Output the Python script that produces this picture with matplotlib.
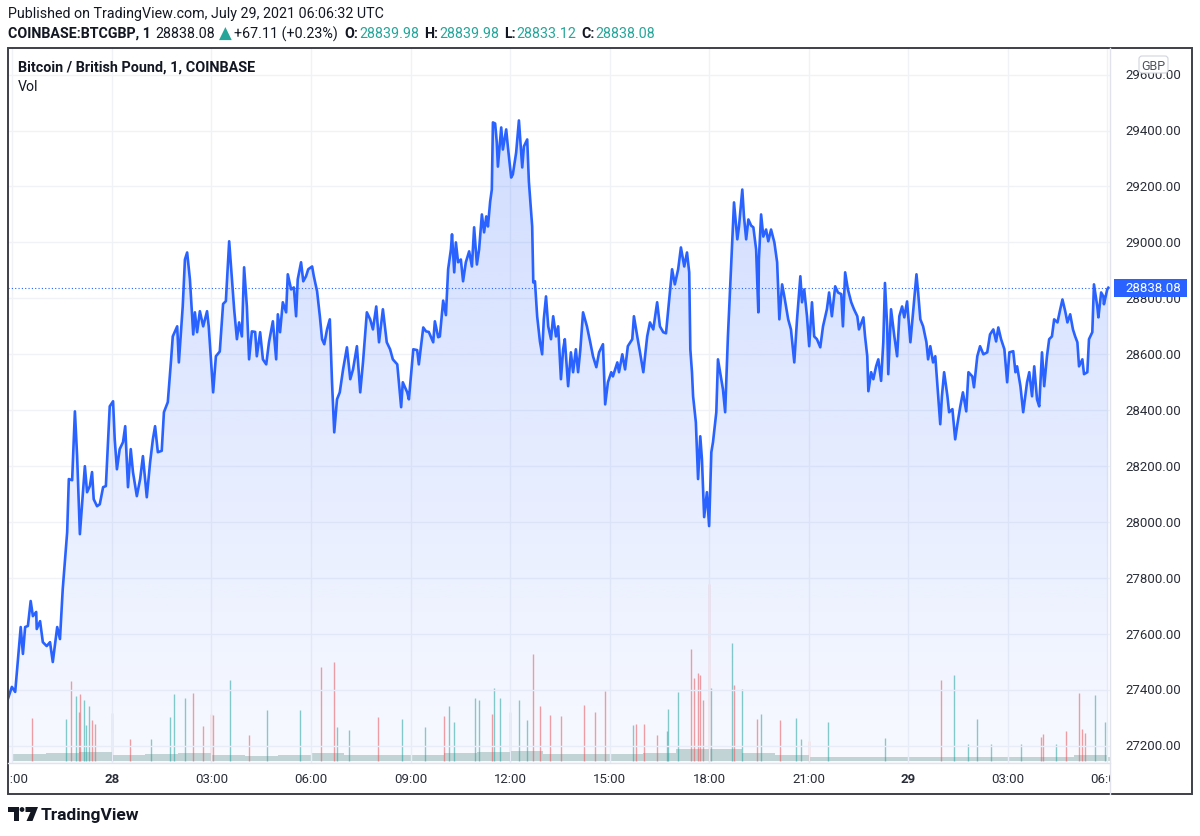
import numpy as np
import matplotlib.pyplot as plt
from matplotlib.patches import Rectangle, Polygon, Circle, FancyBboxPatch
from matplotlib.colors import to_rgb

plt.rcParams['font.family'] = ['Roboto', 'DejaVu Sans']

# minutes from 28 Jul 2021 00:00 UTC and 1-min close
minutes = [-190, -181, -175, -170, -165, -161, -157, -152, -147, -143, -137, -136, -130, -125, -118, -112,
           -107, -99, -94, -89, -81, -78, -72, -67, -63, -58, -52, -49, -45, -40, -36, -33, -27, -22, -16,
           -11, -7, -4, 2, 5, 9, 14, 20, 24, 29, 34, 38, 45, 51, 56, 63, 69, 74, 78, 83, 90, 94, 101, 107,
           110, 118, 121, 128, 132, 136, 141, 147, 150, 154, 159, 165, 172, 175, 183, 188, 195, 201, 206,
           212, 217, 221, 226, 230, 235, 239, 244, 248, 253, 259, 262, 268, 273, 279, 284, 291, 297, 300,
           304, 309, 315, 318, 324, 329, 333, 336, 342, 346, 351, 355, 362, 365, 371, 376, 380, 384, 389,
           394, 398, 402, 407, 412, 418, 425, 431, 436, 443, 449, 454, 461, 467, 472, 478, 483, 490, 497,
           503, 508, 516, 523, 526, 534, 537, 545, 552, 555, 563, 568, 573, 581, 584, 590, 593, 599, 604,
           608, 613, 615, 619, 622, 626, 631, 635, 640, 646, 651, 655, 660, 664, 669, 673, 677, 680, 684,
           687, 689, 693, 696, 698, 704, 707, 713, 716, 722, 725, 731, 736, 742, 745, 751, 754, 760, 762,
           765, 769, 774, 778, 781, 785, 789, 794, 798, 803, 807, 812, 816, 819, 825, 830, 834, 839, 843,
           847, 852, 859, 865, 870, 876, 881, 888, 892, 897, 903, 906, 914, 917, 923, 928, 933, 941, 944,
           950, 955, 961, 968, 973, 979, 986, 991, 997, 1002, 1008, 1013, 1018, 1024, 1029, 1035, 1040,
           1044, 1046, 1049, 1051, 1056, 1060, 1064, 1067, 1071, 1076, 1080, 1084, 1087, 1093, 1096, 1102,
           1105, 1109, 1114, 1116, 1122, 1125, 1131, 1134, 1140, 1143, 1147, 1151, 1156, 1160, 1165, 1169,
           1170, 1174, 1178, 1183, 1187, 1192, 1198, 1203, 1207, 1212, 1216, 1223, 1228, 1234, 1239, 1245,
           1248, 1252, 1257, 1261, 1266, 1270, 1275, 1281, 1286, 1293, 1297, 1302, 1308, 1313, 1319, 1322,
           1326, 1331, 1337, 1342, 1348, 1351, 1359, 1362, 1366, 1368, 1373, 1377, 1382, 1386, 1391, 1395,
           1398, 1402, 1404, 1409, 1415, 1420, 1424, 1429, 1433, 1438, 1444, 1449, 1455, 1458, 1462, 1467,
           1473, 1476, 1480, 1485, 1489, 1492, 1498, 1501, 1505, 1511, 1514, 1520, 1525, 1529, 1534, 1539,
           1545, 1549, 1556, 1559, 1565, 1570, 1576, 1583, 1588, 1594, 1599, 1603, 1608, 1614, 1619, 1623,
           1630, 1634, 1637, 1643, 1648, 1655, 1659, 1664, 1668, 1673, 1677, 1682, 1686, 1691, 1695, 1700,
           1704, 1710, 1715, 1719, 1724, 1728, 1733, 1738, 1742, 1746, 1749, 1755, 1758, 1764, 1767, 1773,
           1776, 1782, 1784, 1789, 1793, 1794, 1800, 1802]
closes = [27357, 27411, 27393, 27511, 27625, 27529, 27625, 27629, 27718, 27664, 27679, 27618, 27646, 27571,
          27557, 27571, 27500, 27625, 27582, 27761, 27964, 28154, 28150, 28396, 28236, 27957, 28118, 28200,
          28107, 28129, 28179, 28082, 28057, 28064, 28125, 28129, 28296, 28414, 28432, 28296, 28189, 28261,
          28286, 28343, 28125, 28261, 28179, 28093, 28154, 28236, 28089, 28214, 28296, 28343, 28250, 28255,
          28393, 28429, 28582, 28664, 28700, 28571, 28771, 28939, 28964, 28868, 28671, 28750, 28679, 28754,
          28700, 28754, 28700, 28464, 28593, 28610, 28780, 28790, 29004, 28868, 28761, 28654, 28714, 28664,
          28911, 28771, 28582, 28682, 28680, 28593, 28679, 28582, 28564, 28643, 28718, 28582, 28743, 28679,
          28786, 28750, 28886, 28832, 28839, 28736, 28868, 28929, 28861, 28879, 28904, 28914, 28880, 28825,
          28736, 28654, 28636, 28689, 28725, 28500, 28321, 28439, 28464, 28546, 28625, 28511, 28546, 28629,
          28464, 28571, 28750, 28725, 28689, 28771, 28643, 28761, 28643, 28618, 28582, 28564, 28411, 28500,
          28464, 28439, 28618, 28615, 28564, 28696, 28682, 28680, 28643, 28718, 28661, 28664, 28792, 28740,
          28904, 28975, 29029, 28893, 29000, 28929, 28939, 28861, 28929, 28968, 28914, 29054, 28921, 28975,
          29100, 29036, 29093, 29057, 29146, 29189, 29429, 29425, 29357, 29271, 29411, 29332, 29404, 29343,
          29232, 29243, 29321, 29436, 29268, 29343, 29368, 29218, 29057, 28857, 28861, 28736, 28646, 28600,
          28725, 28807, 28700, 28654, 28736, 28664, 28700, 28511, 28618, 28654, 28486, 28607, 28536, 28618,
          28536, 28615, 28750, 28700, 28643, 28593, 28554, 28607, 28636, 28421, 28500, 28536, 28521, 28571,
          28536, 28600, 28546, 28629, 28654, 28736, 28664, 28607, 28536, 28664, 28714, 28689, 28786, 28700,
          28679, 28675, 28800, 28904, 28850, 28904, 28982, 28914, 28964, 28893, 28618, 28536, 28450, 28357,
          28154, 28307, 28225, 28018, 28107, 27986, 28250, 28286, 28393, 28582, 28511, 28475, 28393, 28664,
          28750, 29011, 29143, 29011, 29057, 29189, 29093, 29011, 29082, 29060, 29054, 28975, 28750, 28939,
          29100, 29021, 29046, 29004, 29046, 29000, 28929, 28725, 28850, 28807, 28725, 28689, 28571, 28725,
          28879, 28786, 28832, 28736, 28629, 28786, 28664, 28654, 28625, 28700, 28761, 28821, 28736, 28843,
          28821, 28815, 28700, 28893, 28832, 28786, 28761, 28736, 28689, 28732, 28664, 28593, 28468, 28536,
          28511, 28557, 28582, 28505, 28643, 28855, 28700, 28529, 28761, 28664, 28593, 28736, 28771, 28732,
          28789, 28643, 28754, 28886, 28821, 28725, 28700, 28643, 28582, 28629, 28571, 28593, 28511, 28350,
          28450, 28536, 28450, 28393, 28404, 28296, 28350, 28411, 28464, 28396, 28536, 28521, 28482, 28593,
          28629, 28600, 28607, 28671, 28689, 28646, 28696, 28654, 28618, 28500, 28607, 28611, 28536, 28557,
          28486, 28393, 28500, 28536, 28450, 28557, 28439, 28414, 28607, 28486, 28593, 28654, 28664, 28725,
          28714, 28761, 28796, 28754, 28714, 28743, 28689, 28664, 28643, 28557, 28582, 28529, 28536, 28654,
          28679, 28850, 28771, 28732, 28821, 28807, 28779, 28832, 28838.08]

# visible volume spikes (BTC), 1 = up bar (teal), 0 = down bar (red)
vol_minutes = [-145, -74, -65, -58, -51, -42, -36, -31, 0, 33, 71, 105, 112, 132, 147, 179, 213, 248, 280,
               340, 378, 402, 407, 429, 481, 525, 566, 601, 610, 619, 657, 664, 687, 691, 702, 720, 736,
               751, 762, 774, 792, 812, 854, 874, 892, 942, 948, 962, 986, 1004, 1006, 1024, 1047, 1053,
               1060, 1064, 1069, 1080, 1084, 1122, 1125, 1140, 1167, 1174, 1208, 1237, 1246, 1261, 1295,
               1398, 1500, 1523, 1548, 1565, 1590, 1644, 1681, 1684, 1708, 1726, 1749, 1755, 1760, 1778,
               1796, -83, -60, -47, 165, 183]
vol_sizes = [2.15, 4.05, 3.3, 3.4, 3.1, 2.8, 2.05, 1.85, 2.4, 1.1, 1.1, 2.2, 3.4, 3.2, 3.45, 2.35, 4.1, 1.3,
             2.6, 2.6, 4.75, 5.0, 1.7, 1.55, 2.2, 2.1, 1.7, 2.25, 2.8, 1.95, 3.2, 3.1, 2.35, 3.7, 3.2, 2.45,
             3.1, 2.05, 5.4, 2.8, 2.3, 2.25, 2.85, 2.45, 3.55, 1.8, 1.85, 1.85, 1.3, 1.5, 2.65, 3.5, 5.65,
             4.2, 4.45, 4.35, 3.1, 8.95, 3.7, 5.95, 3.85, 3.65, 2.1, 2.35, 2.05, 2.15, 1.1, 1.0, 1.95, 1.15,
             4.1, 4.35, 0.85, 2.1, 0.85, 0.85, 1.2, 1.35, 0.85, 1.5, 3.45, 1.6, 1.4, 3.35, 1.95,
             2.1, 2.5, 1.8, 1.75, 2.3]
vol_up = [0, 0, 1, 0, 1, 1, 0, 0, 1, 0, 1, 1, 1, 1, 0, 0, 1, 0, 1, 1, 0, 0, 1, 1, 0, 1, 1, 0, 1, 1, 1, 1, 0,
          1, 1, 0, 1, 1, 0, 0, 0, 0, 0, 0, 0, 1, 0, 0, 0, 1, 1, 1, 0, 0, 0, 0, 0, 0, 1, 1, 0, 1, 0, 1, 0,
          1, 1, 0, 1, 1, 0, 1, 1, 1, 1, 1, 0, 0, 1, 0, 0, 0, 0, 1, 1, 1, 0, 1, 0, 0]

# typical background volume per hour (BTC), hours from 27 Jul 21:00 to 29 Jul 06:00
base_hours = list(range(-3, 31))
base_vol = [0.35, 0.4, 0.45, 0.3, 0.35, 0.4, 0.3, 0.25, 0.3, 0.4, 0.3, 0.3, 0.3, 0.4, 0.45, 0.5, 0.35,
            0.35, 0.35, 0.4, 0.6, 0.6, 0.4, 0.3, 0.2, 0.2, 0.2, 0.2, 0.18, 0.18, 0.18, 0.18, 0.3, 0.2]

price_ticks = [27200, 27400, 27600, 27800, 28000, 28200, 28400, 28600, 28800, 29000, 29200, 29400, 29600]
time_ticks = [-180, 0, 180, 360, 540, 720, 900, 1080, 1260, 1440, 1620, 1800]
time_labels = ['21:00', '28', '03:00', '06:00', '09:00', '12:00', '15:00', '18:00', '21:00', '29',
               '03:00', '06:00']
last_price = 28838.08

blue = '#2962ff'
teal = '#26a69a'
red = '#ef5350'
dark = '#131722'

W, H = 1200, 837
fig = plt.figure(figsize=(W / 100, H / 100), dpi=100)


def rect(x0, y0, x1, y1):
    return [x0 / W, 1 - y1 / H, (x1 - x0) / W, (y1 - y0) / H]


xmin, xmax = -188, 1805
ymin, ymax = 27139, 29695

# volume pane (underneath)
vax = fig.add_axes(rect(8, 49, 1110, 764), zorder=0)
vax.set_xlim(xmin, xmax)
vax.set_ylim(-0.1, 36)
vax.axis('off')
bx = [h * 60 for h in base_hours] + [base_hours[-1] * 60 + 60]
vax.fill_between(bx, 0, base_vol + [base_vol[-1]], step='post', color='#a3bfb8', alpha=0.6, lw=0)
vcol = [teal if u else red for u in vol_up]
vax.vlines(vol_minutes, 0, vol_sizes, colors=vcol, lw=1.0, alpha=0.55)

# price pane
ax = fig.add_axes(rect(8, 49, 1110, 764), zorder=1)
ax.patch.set_visible(False)
for p in price_ticks:
    ax.axhline(p, color='#f0f2f6', lw=1, zorder=0)
for t in time_ticks:
    ax.axvline(t, color='#f0f2f6', lw=1, zorder=0)

fill = ax.fill_between(minutes, closes, ymin, facecolor='none', edgecolor='none')
grad = np.zeros((256, 1, 4))
grad[..., :3] = to_rgb(blue)
grad[:, 0, 3] = np.linspace(0.22, 0.035, 256)
im = ax.imshow(grad, extent=[xmin, xmax, ymin, max(closes)], aspect='auto', origin='upper', zorder=1)
im.set_clip_path(fill.get_paths()[0], transform=ax.transData)

ax.plot(minutes, closes, color=blue, lw=1.9, zorder=3, solid_joinstyle='round')
ax.axhline(last_price, color=blue, lw=0.8, ls=(0, (1, 2)), zorder=2)
ax.set_xlim(xmin, xmax)
ax.set_ylim(ymin, ymax)
ax.set_xticks([])
ax.set_yticks([])
for s in ax.spines.values():
    s.set_visible(False)

# price scale
ytr = ax.get_yaxis_transform()
for p in price_ticks:
    ax.text(1.0136, p, f'{p:.2f}', transform=ytr, va='center', ha='left', fontsize=9.5, color='#2a2e39',
            clip_on=False)
ax.add_patch(Rectangle((1.0036, last_price - 32), 0.0662, 64, transform=ytr, facecolor=blue,
                       edgecolor='none', clip_on=False, zorder=5))
ax.text(1.0136, last_price, f'{last_price:.2f}', transform=ytr, va='center', ha='left', fontsize=9.5,
        color='white', clip_on=False, zorder=6)

# time scale
tax = fig.add_axes(rect(8, 764, 1110, 795))
tax.set_xlim(xmin, xmax)
tax.set_ylim(0, 1)
tax.axis('off')
for t, lab in zip(time_ticks, time_labels):
    bold = lab in ('28', '29')
    tt = tax.text(t, 0.5, lab, ha='center', va='center', fontsize=9.5, color='#2a2e39',
                  fontweight='bold' if bold else 'normal')
    tt.set_clip_box(tax.bbox)
    tt.set_clip_on(True)

# overlay in pixel coordinates
ov = fig.add_axes([0, 0, 1, 1], zorder=10)
ov.set_xlim(0, W)
ov.set_ylim(H, 0)
ov.axis('off')
ov.plot([1110, 1110], [49, 795], color='#e0e3eb', lw=1)
ov.plot([8, 1110], [764, 764], color='#e0e3eb', lw=1)
ov.add_patch(Rectangle((8, 49), 1184, 746, fill=False, edgecolor='#3d4049', lw=1.4))
ov.add_patch(FancyBboxPatch((1139, 57), 29, 17, boxstyle='round,pad=0,rounding_size=3',
                            facecolor='white', edgecolor='#d1d4dc', lw=0.8))
ov.text(1153.5, 66, 'GBP', ha='center', va='center', fontsize=9, color='#50535e')

ov.text(18, 68, 'Bitcoin / British Pound, 1, COINBASE', ha='left', va='center', fontsize=10.4,
        fontweight='bold', color=dark)
ov.text(18, 87, 'Vol', ha='left', va='center', fontsize=10.2, color=dark)

# header
ov.text(8, 14, 'Published on TradingView.com, July 29, 2021 06:06:32 UTC', ha='left', va='center',
        fontsize=10.3, color=dark)
hdr = [('COINBASE:BTCGBP, 1', dark, 'bold', 5), ('28838.08', dark, 'normal', 3),
       ('\u25b2', teal, 'normal', 3), ('+67.11 (+0.23%)', dark, 'normal', 6),
       ('O:', dark, 'bold', 1), ('28839.98', teal, 'normal', 5),
       ('H:', dark, 'bold', 1), ('28839.98', teal, 'normal', 5),
       ('L:', dark, 'bold', 1), ('28833.12', teal, 'normal', 5),
       ('C:', dark, 'bold', 1), ('28838.08', teal, 'normal', 0)]
fig.canvas.draw()
rend = fig.canvas.get_renderer()
hx = 8
for txt, c, w, gap in hdr:
    tri = txt == '\u25b2'
    ht = ov.text(hx, 34, txt, ha='left', va='center', fontsize=12 if tri else 10.3, color=c, fontweight=w,
                 family=['DejaVu Sans'] if tri else None)
    hx += ht.get_window_extent(rend).width + gap

# footer logo
ov.add_patch(Polygon([(8, 808), (19, 808), (19, 822), (14, 822), (14, 813), (8, 813)], closed=True,
                     facecolor=dark, edgecolor='none'))
ov.add_patch(Circle((22, 810.5), 2.4, facecolor=dark, edgecolor='none'))
ov.add_patch(Polygon([(25.5, 808), (38, 808), (32.5, 822), (26.5, 822), (30.5, 813), (25.5, 813)],
                     closed=True, facecolor=dark, edgecolor='none'))
ov.text(41, 816, 'TradingView', ha='left', va='center', fontsize=12.5, fontweight='bold', color=dark)

fig.savefig('out.png', dpi=100, facecolor='white')
